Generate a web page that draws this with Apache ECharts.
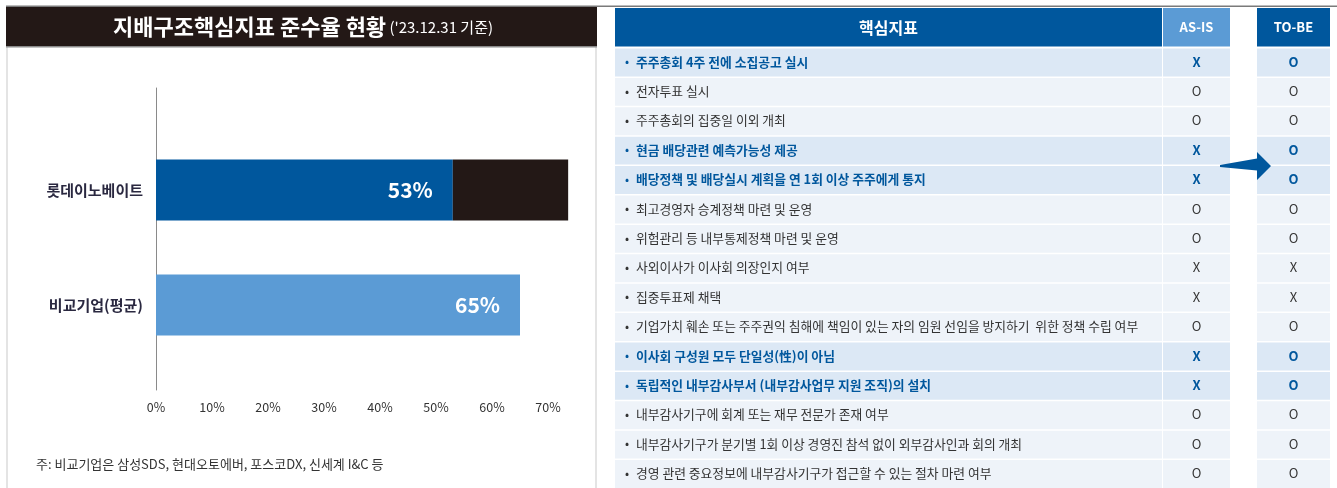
<!DOCTYPE html>
<html>
<head>
<meta charset="utf-8">
<script src="https://cdn.jsdelivr.net/npm/echarts@6/dist/echarts.min.js"></script>
<style>
  html, body { margin: 0; padding: 0; background: #fff; }
  #main { width: 1337px; height: 488px; }
</style>
</head>
<body>
<div id="main"></div>
<script>
// left chart data
var companies = ['롯데이노베이트', '비교기업(평균)'];
var compliance = [53, 65];
var gapToTarget = [20.6, null];
var xTicks = [0, 10, 20, 30, 40, 50, 60, 70];

// right table data
var indicators = [
    '주주총회 4주 전에 소집공고 실시',
    '전자투표 실시',
    '주주총회의 집중일 이외 개최',
    '현금 배당관련 예측가능성 제공',
    '배당정책 및 배당실시 계획을 연 1회 이상 주주에게 통지',
    '최고경영자 승계정책 마련 및 운영',
    '위험관리 등 내부통제정책 마련 및 운영',
    '사외이사가 이사회 의장인지 여부',
    '집중투표제 채택',
    '기업가치 훼손 또는 주주권익 침해에 책임이 있는 자의 임원 선임을 방지하기  위한 정책 수립 여부',
    '이사회 구성원 모두 단일성(性)이 아님',
    '독립적인 내부감사부서 (내부감사업무 지원 조직)의 설치',
    '내부감사기구에 회계 또는 재무 전문가 존재 여부',
    '내부감사기구가 분기별 1회 이상 경영진 참석 없이 외부감사인과 회의 개최',
    '경영 관련 중요정보에 내부감사기구가 접근할 수 있는 절차 마련 여부'
];
var asIs = ['X', 'O', 'O', 'X', 'X', 'O', 'O', 'X', 'X', 'O', 'X', 'X', 'O', 'O', 'O'];
var toBe = ['O', 'O', 'O', 'O', 'O', 'O', 'O', 'X', 'X', 'O', 'O', 'O', 'O', 'O', 'O'];

var KR = '"Noto Sans CJK KR", "Noto Sans", sans-serif';
var DARK = '#231816';
var BLUE = '#00579d';
var LIGHT = '#5b9bd5';

// table columns (in table x units = px of the table grid)
var COL_MAIN = [0, 547];
var COL_ASIS = [548, 615];
var COL_TOBE = [642, 715];

function renderRow(params, api) {
    var i = api.value(1);
    var h = api.size([0, 1])[1];
    var yc = api.coord([0, i])[1];
    var y = yc - h / 2;
    var hl = asIs[i] !== toBe[i];
    var bg = hl ? '#dce8f5' : '#eef3f9';
    var fg = hl ? BLUE : '#333';
    var weight = hl ? 'bold ' : '';
    var x = function (v) { return api.coord([v, i])[0]; };

    var children = [];
    [COL_MAIN, COL_ASIS, COL_TOBE].forEach(function (c) {
        children.push({
            type: 'rect',
            shape: { x: x(c[0]), y: y + 1.5, width: x(c[1]) - x(c[0]), height: h - 1.5 },
            style: { fill: bg }
        });
    });
    children.push({
        type: 'text',
        style: { text: '•', x: x(COL_MAIN[0]) + 12, y: yc, fill: fg, font: '12px ' + KR, textAlign: 'center', textVerticalAlign: 'middle' }
    });
    children.push({
        type: 'text',
        style: { text: indicators[i], x: x(COL_MAIN[0]) + 21, y: yc, fill: fg, font: weight + '12.8px ' + KR, textAlign: 'left', textVerticalAlign: 'middle' }
    });
    children.push({
        type: 'text',
        style: { text: asIs[i], x: (x(COL_ASIS[0]) + x(COL_ASIS[1])) / 2, y: yc, fill: fg, font: weight + '13px ' + KR, textAlign: 'center', textVerticalAlign: 'middle' }
    });
    children.push({
        type: 'text',
        style: { text: toBe[i], x: (x(COL_TOBE[0]) + x(COL_TOBE[1])) / 2, y: yc, fill: fg, font: weight + '13px ' + KR, textAlign: 'center', textVerticalAlign: 'middle' }
    });
    return { type: 'group', children: children };
}

var myChart = echarts.init(document.getElementById('main'));

var option = {
    animation: false,
    backgroundColor: '#fff',
    textStyle: { fontFamily: KR },
    grid: [
        { left: 156, top: 132.5, width: 420, height: 230 },
        { left: 156, top: 88, width: 10, height: 302 },
        { left: 615, top: 47, width: 715, height: 444 }
    ],
    xAxis: [
        {
            gridIndex: 0, type: 'value', min: 0, max: 75, interval: 10,
            axisLine: { show: false }, axisTick: { show: false }, splitLine: { show: false },
            axisLabel: {
                margin: 38, color: '#333', fontSize: 12.5, fontFamily: KR,
                showMaxLabel: false,
                formatter: function (v) { return xTicks.indexOf(v) >= 0 ? v + '%' : ''; }
            }
        },
        { gridIndex: 1, type: 'value', show: false },
        { gridIndex: 2, type: 'value', min: 0, max: 715, show: false }
    ],
    yAxis: [
        {
            gridIndex: 0, type: 'category', inverse: true, data: companies,
            axisLine: { show: false }, axisTick: { show: false },
            axisLabel: { margin: 13, color: '#2a2840', fontSize: 15, fontWeight: 'bold', fontFamily: KR }
        },
        {
            gridIndex: 1, type: 'category', data: [''],
            axisLine: { show: true, lineStyle: { color: '#8a8a8a', width: 1 } },
            axisTick: { show: false }, axisLabel: { show: false }
        },
        {
            gridIndex: 2, type: 'category', inverse: true, data: indicators, show: false
        }
    ],
    series: [
        {
            type: 'bar', name: '준수율', xAxisIndex: 0, yAxisIndex: 0, stack: 'a', barWidth: 61,
            data: compliance.map(function (v, i) {
                return { value: v, itemStyle: { color: i === 0 ? BLUE : LIGHT } };
            }),
            label: {
                show: true, position: 'insideRight', distance: 20,
                color: '#fff', fontSize: 21, fontWeight: 'bold', fontFamily: KR,
                formatter: '{c}%'
            }
        },
        {
            type: 'bar', name: '목표', xAxisIndex: 0, yAxisIndex: 0, stack: 'a', barWidth: 61,
            data: gapToTarget,
            itemStyle: { color: DARK }
        },
        {
            type: 'custom', xAxisIndex: 2, yAxisIndex: 2,
            data: indicators.map(function (d, i) { return [0, i]; }),
            encode: { x: 0, y: 1 },
            renderItem: renderRow,
            silent: true
        }
    ],
    graphic: [
        // top rule
        { type: 'rect', shape: { x: 6, y: 5.5, width: 1331, height: 1.5 }, style: { fill: '#7a7a7a' } },
        // left panel borders
        { type: 'rect', shape: { x: 6, y: 7, width: 2, height: 481 }, style: { fill: '#e4e4e4' } },
        { type: 'rect', shape: { x: 595, y: 47, width: 2, height: 441 }, style: { fill: '#e4e4e4' } },
        // title bar
        { type: 'rect', shape: { x: 6, y: 7, width: 591, height: 39 }, style: { fill: DARK } },
        { type: 'rect', shape: { x: 6, y: 46, width: 591, height: 1.5 }, style: { fill: '#8a8a8a' } },
        {
            type: 'text', x: 303, y: 27,
            style: {
                text: '{a|지배구조핵심지표 준수율 현황} {b|(\'23.12.31 기준)}',
                textAlign: 'center', textVerticalAlign: 'middle',
                rich: {
                    a: { fill: '#fff', font: 'bold 22px ' + KR },
                    b: { fill: '#fff', font: '15px ' + KR }
                }
            }
        },
        // footnote
        {
            type: 'text', x: 36, y: 464,
            style: { text: '주: 비교기업은 삼성SDS, 현대오토에버, 포스코DX, 신세계 I&C 등', fill: '#333', font: '13px ' + KR, textVerticalAlign: 'middle' }
        },
        // table header
        { type: 'rect', shape: { x: 615, y: 8, width: 547, height: 38.5 }, style: { fill: BLUE } },
        { type: 'rect', shape: { x: 1163, y: 8, width: 67, height: 38.5 }, style: { fill: LIGHT } },
        { type: 'rect', shape: { x: 1257, y: 8, width: 73, height: 38.5 }, style: { fill: BLUE } },
        { type: 'text', x: 888.5, y: 27.5, style: { text: '핵심지표', fill: '#fff', font: 'bold 16px ' + KR, textAlign: 'center', textVerticalAlign: 'middle' } },
        { type: 'text', x: 1196.5, y: 27.5, style: { text: 'AS-IS', fill: '#fff', font: 'bold 13px ' + KR, textAlign: 'center', textVerticalAlign: 'middle' } },
        { type: 'text', x: 1293.5, y: 27.5, style: { text: 'TO-BE', fill: '#fff', font: 'bold 13px ' + KR, textAlign: 'center', textVerticalAlign: 'middle' } },
        // arrow
        {
            type: 'polygon', z: 100,
            shape: { points: [[1220, 165], [1257, 158.5], [1257, 152], [1271, 166], [1257, 180], [1257, 170.5], [1220, 167]] },
            style: { fill: BLUE }
        }
    ]
};

myChart.setOption(option);
</script>
</body>
</html>
